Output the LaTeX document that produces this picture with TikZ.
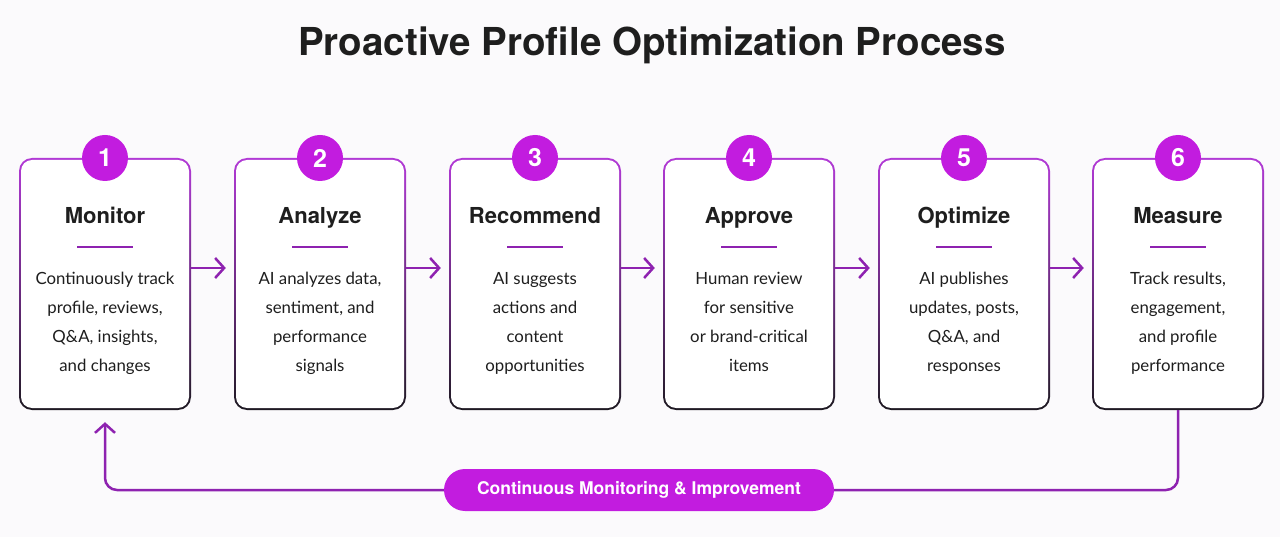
\documentclass[tikz,border=0pt]{standalone}
\usepackage{fontspec}
\setmainfont{Lato}
\newfontfamily\headfont{TeX Gyre Heros}
\usetikzlibrary{arrows.meta,calc}
\definecolor{mag}{HTML}{C21CDF}
\definecolor{arr}{HTML}{8E22B0}
\definecolor{bg}{HTML}{FBFAFC}
\definecolor{txt}{HTML}{1E1E1E}
\definecolor{boxtop}{HTML}{B23AD6}
\definecolor{boxbot}{HTML}{1E1A22}
\begin{document}
\begin{tikzpicture}[x=1pt,y=-1pt,
  outerbox/.style={rectangle,rounded corners=13pt,minimum width=172pt,minimum height=252pt,top color=boxtop,bottom color=boxbot,middle color=boxtop!55!boxbot,inner sep=0pt},
  innerbox/.style={rectangle,rounded corners=11pt,minimum width=168pt,minimum height=248pt,fill=white,inner sep=0pt},
  numdot/.style={circle,fill=mag,minimum size=46pt,inner sep=0pt,text=white,font=\headfont\bfseries\fontsize{25}{25}\selectfont},
  heading/.style={anchor=base,font=\headfont\bfseries\fontsize{22}{24}\selectfont,text=txt},
  body/.style={font=\fontsize{16.8}{29}\selectfont,text=txt,align=center,execute at begin node=\strut,execute at end node=\strut},
  uline/.style={draw=arr,line width=2.5pt},
  flow/.style={draw=arr,line width=2.5pt,-{Straight Barb[length=9pt,width=20pt,line width=2.5pt]}},
  pillst/.style={rectangle,rounded corners=21pt,fill=mag,minimum width=390pt,minimum height=42pt,text=white,font=\headfont\bfseries\fontsize{17.5}{20}\selectfont}
]
\fill[bg] (0,0) rectangle (1280,537);
\node[font=\headfont\bfseries\fontsize{38.5}{40}\selectfont,text=txt] (title) at (652,45) {Proactive Profile Optimization Process};

\foreach \i/\x/\h/\t in {
  1/105/Monitor/{Continuously track\\profile, reviews,\\Q\&A, insights,\\and changes},
  2/320/Analyze/{AI analyzes data,\\sentiment, and\\performance\\signals},
  3/535/Recommend/{AI suggests\\actions and\\content\\opportunities},
  4/749/Approve/{Human review\\for sensitive\\or brand-critical\\items},
  5/964/Optimize/{AI publishes\\updates, posts,\\Q\&A, and\\responses},
  6/1178/Measure/{Track results,\\engagement,\\and profile\\performance}}{
  \node[outerbox] (b\i) at (\x,284) {};
  \node[innerbox] (in\i) at (b\i.center) {};
  \node[numdot] (n\i) at (\x,158) {\i};
  \node[heading] (h\i) at (\x,224) {\h};
  \draw[uline] (\x-28,247) -- (\x+28,247);
  \node[body] (t\i) at (\x,326) {\t};
}

\foreach \a/\b in {1/2,2/3,3/4,4/5,5/6}{
  \draw[flow,shorten >=8pt] ([yshift=16pt]b\a.east) -- ([yshift=16pt]b\b.west);
}

\node[pillst] (pill) at (639,490) {Continuous Monitoring \& Improvement};
\draw[draw=arr,line width=2.5pt,rounded corners=12pt] (b6.south) -- (b6.south |- pill.center) -- (pill.east);
\draw[flow,rounded corners=12pt,shorten >=12pt] (pill.west) -- (b1.south |- pill.center) -- (b1.south);
\end{tikzpicture}
\end{document}
